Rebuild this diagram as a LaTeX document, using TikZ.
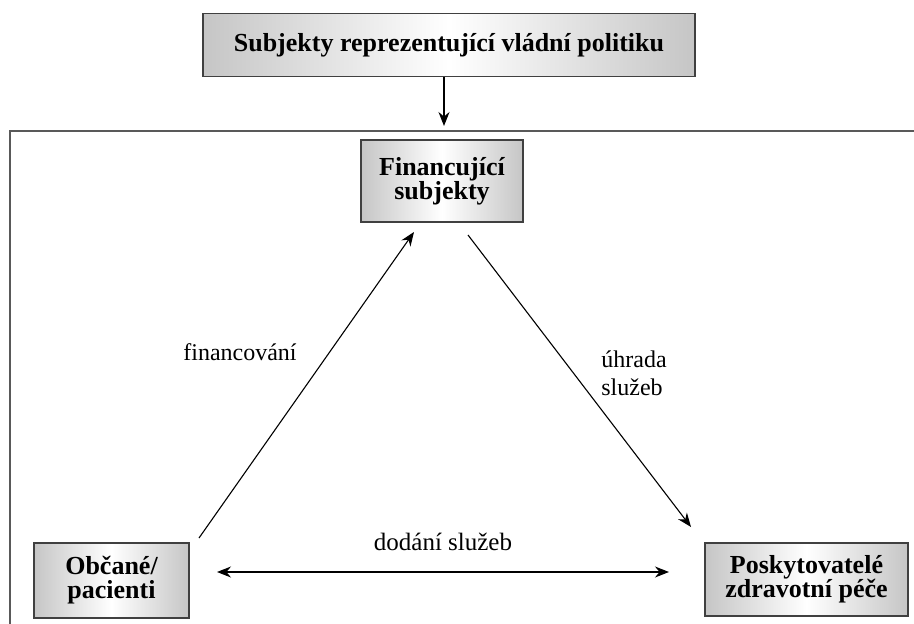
\documentclass[tikz,border=0pt]{standalone}
\usepackage{fontspec}
\setmainfont{Liberation Serif}
\usetikzlibrary{arrows.meta}
\tikzset{
  gbox/.style={draw=black!75, line width=1.4pt, left color=gray!45, right color=gray!45, middle color=white,
    font=\bfseries\fontsize{26}{24}\selectfont, align=center, inner sep=0pt},
  lbl/.style={font=\fontsize{24}{28}\selectfont, align=left, inner sep=0pt},
  arr/.style={line width=1.1pt, -{Stealth[length=14pt,width=11pt]}},
  darr/.style={line width=1.1pt, {Stealth[length=14pt,width=11pt]}-{Stealth[length=14pt,width=11pt]}},
  frame/.style={draw=black!65, line width=1.6pt}
}
\begin{document}
\begin{tikzpicture}[x=1pt,y=-1pt]
\useasboundingbox (0,0) rectangle (914,624);
\node[gbox, minimum width=492pt, minimum height=63pt] (top) at (449,45) {Subjekty reprezentující vládní politiku};
\node[gbox, minimum width=162pt, minimum height=82pt] (fin) at (442,181) {Financující\\subjekty};
\node[gbox, minimum width=155pt, minimum height=75pt] (obc) at (111.5,580.5) {Občané/\\pacienti};
\node[gbox, minimum width=203pt, minimum height=73pt] (pos) at (806.5,579.5) {Poskytovatelé\\zdravotní péče};
% frame
\coordinate (fbl) at (10,640);
\coordinate (ftl) at (10,131);
\coordinate (ftr) at (930,131);
\draw[frame] (fbl) -- (ftl) -- (ftr);
% arrows
\coordinate (tip) at (444,126);
\draw[arr] (top.south -| tip) -- (tip);
\coordinate (a1) at (199,538);
\coordinate (a2) at (414,232);
\draw[arr] (a1) -- (a2);
\coordinate (b1) at (468,235);
\coordinate (b2) at (691,527);
\draw[arr] (b1) -- (b2);
\coordinate (c1) at (217,572);
\coordinate (c2) at (669,572);
\draw[darr] (c1) -- (c2);
% labels
\node[lbl] (l1) at (240,352) {financování};
\node[lbl] (l2) at (634,373) {úhrada\\služeb};
\node[lbl, font=\fontsize{25}{28}\selectfont] (l3) at (443,542) {dodání služeb};
\end{tikzpicture}
\end{document}
